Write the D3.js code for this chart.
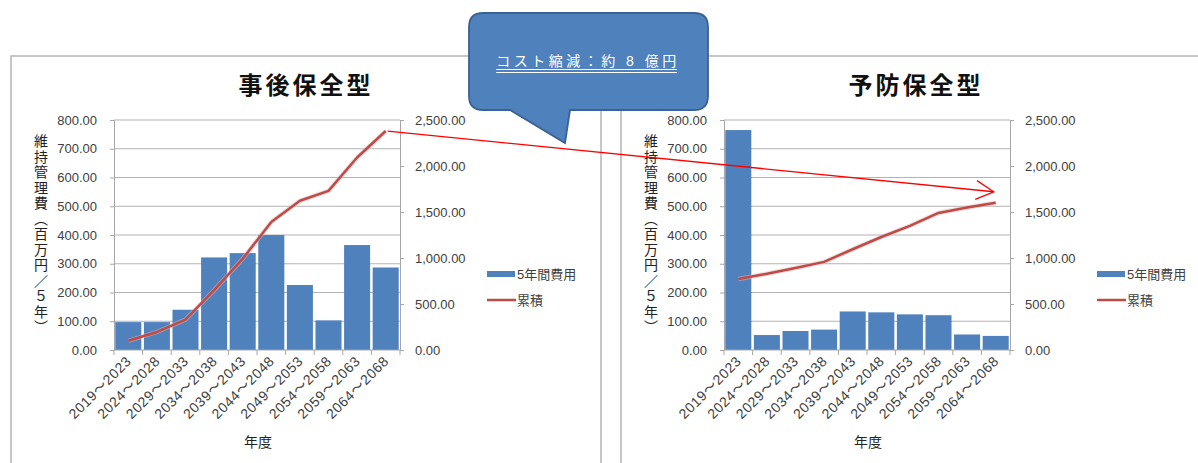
<!DOCTYPE html>
<html>
<head>
<meta charset="utf-8">
<script src="https://cdn.jsdelivr.net/npm/d3@7"></script>
<style>
  body { margin: 0; background: #fff; }
  svg { display: block; }
  text { font-family: "Liberation Sans", "Noto Sans CJK JP", sans-serif; }
</style>
</head>
<body>
<svg id="chart" width="1198" height="463"></svg>
<script>
// Five-year periods on the horizontal axis
const periods = ["2019～2023", "2024～2028", "2029～2033", "2034～2038", "2039～2043",
                 "2044～2048", "2049～2053", "2054～2058", "2059～2063", "2064～2068"];

// Corrective maintenance (事後保全型): cost per five years and running total (百万円)
const correctiveCost = [97, 97, 140, 322, 337, 400, 226, 103, 365, 287];
const correctiveCumulative = [100, 196, 330, 650, 992, 1392, 1622, 1730, 2092, 2380];

// Preventive maintenance (予防保全型): cost per five years and running total (百万円)
const preventiveCost = [765, 52, 66, 71, 134, 131, 124, 121, 54, 49];
const preventiveCumulative = [772, 828, 892, 958, 1095, 1228, 1350, 1490, 1548, 1600];

// Axis ticks
const costTicks = [0, 100, 200, 300, 400, 500, 600, 700, 800];
const cumulativeTicks = [0, 500, 1000, 1500, 2000, 2500];

// Texts
const panelTitles = ["事後保全型", "予防保全型"];
const seriesNames = ["5年間費用", "累積"];
const yAxisTitle = "維持管理費（百万円／５年）";
const xAxisTitle = "年度";
const calloutText = "コスト縮減：約 8 億円";
// Level on the preventive chart's cumulative axis that the comparison arrow points to
const arrowTargetValue = 1720;

const BAR = "#4f81bd", LINE = "#be4b48", GRID = "#b3b3b3", AXIS = "#a6a6a6", LABEL = "#404040";

const svg = d3.select("#chart");

// Panel frames
const panelOffset = 610;
[0, 1].forEach(i => {
  svg.append("rect")
    .attr("x", 11 + i * panelOffset).attr("y", 56)
    .attr("width", 590 + i * 20).attr("height", 440)
    .attr("fill", "none").attr("stroke", "#b9b9b9").attr("stroke-width", 1.6);
});

function drawPanel(i, cost, cumulative) {
  const ox = i * panelOffset;
  const left = 114 + ox, right = 400 + ox, top = 120, bottom = 350;
  const g = svg.append("g");

  const x = d3.scaleBand().domain(periods).range([left, right])
    .paddingInner(0.09).paddingOuter(0.045);
  const yCost = d3.scaleLinear().domain([0, 800]).range([bottom, top]);
  const yCum = d3.scaleLinear().domain([0, 2500]).range([bottom, top]);

  // Title
  g.append("text")
    .attr("x", 306 + ox).attr("y", 94)
    .attr("text-anchor", "middle")
    .attr("font-size", 24).attr("font-weight", "bold")
    .attr("letter-spacing", 3)
    .attr("fill", "#111")
    .text(panelTitles[i]);

  // Horizontal gridlines
  g.append("g").selectAll("line").data(costTicks.filter(d => d > 0)).join("line")
    .attr("x1", left).attr("x2", right)
    .attr("y1", d => yCost(d)).attr("y2", d => yCost(d))
    .attr("stroke", GRID).attr("stroke-width", 1);

  // Left axis
  const axL = g.append("g").attr("transform", `translate(${left},0)`)
    .call(d3.axisLeft(yCost).tickValues(costTicks).tickFormat(d3.format(".2f"))
      .tickSize(4).tickPadding(13));
  axL.select(".domain").attr("stroke", AXIS);
  axL.selectAll(".tick line").attr("stroke", AXIS);
  axL.selectAll("text").attr("font-size", 13).attr("fill", LABEL)
    .attr("font-family", "'Liberation Sans', sans-serif");

  // Right axis
  const axR = g.append("g").attr("transform", `translate(${right},0)`)
    .call(d3.axisRight(yCum).tickValues(cumulativeTicks).tickFormat(d3.format(",.2f"))
      .tickSize(4).tickPadding(11));
  axR.select(".domain").attr("stroke", AXIS);
  axR.selectAll(".tick line").attr("stroke", AXIS);
  axR.selectAll("text").attr("font-size", 13).attr("fill", LABEL)
    .attr("font-family", "'Liberation Sans', sans-serif");

  // Bars
  g.append("g").selectAll("rect").data(cost).join("rect")
    .attr("x", (d, k) => x(periods[k]))
    .attr("width", x.bandwidth())
    .attr("y", d => yCost(d))
    .attr("height", d => yCost(0) - yCost(d))
    .attr("fill", BAR);

  // Bottom axis line and ticks at band boundaries
  g.append("line").attr("x1", left).attr("x2", right)
    .attr("y1", bottom).attr("y2", bottom).attr("stroke", AXIS);
  g.append("g").selectAll("line").data(d3.range(periods.length + 1)).join("line")
    .attr("x1", k => left + k * x.step()).attr("x2", k => left + k * x.step())
    .attr("y1", bottom).attr("y2", bottom + 5)
    .attr("stroke", AXIS);

  // Category labels
  g.append("g").selectAll("text").data(periods).join("text")
    .attr("transform", p => `translate(${x(p) + x.bandwidth() / 2 + 4},${bottom + 12}) rotate(-45)`)
    .attr("text-anchor", "end")
    .attr("font-size", 14).attr("letter-spacing", 0.6).attr("fill", LABEL)
    .text(p => p);

  // Cumulative line
  const line = d3.line()
    .x((d, k) => x(periods[k]) + x.bandwidth() / 2)
    .y(d => yCum(d));
  g.append("path").datum(cumulative)
    .attr("d", line).attr("fill", "none")
    .attr("stroke", "#e8b5b3").attr("stroke-width", 4.5).attr("stroke-opacity", 0.5);
  g.append("path").datum(cumulative)
    .attr("d", line).attr("fill", "none")
    .attr("stroke", LINE).attr("stroke-width", 2.5).attr("stroke-linejoin", "round");

  // Vertical axis title
  g.append("text")
    .attr("x", 40 + ox).attr("y", 134)
    .attr("writing-mode", "vertical-rl")
    .attr("font-family", "'Noto Sans CJK JP', sans-serif")
    .attr("font-size", 14).attr("letter-spacing", 1.5)
    .attr("fill", "#222")
    .text(yAxisTitle);

  // Horizontal axis title
  g.append("text")
    .attr("x", 258 + ox).attr("y", 447)
    .attr("text-anchor", "middle")
    .attr("font-family", "'Noto Sans CJK JP', sans-serif")
    .attr("font-size", 14).attr("fill", "#222")
    .text(xAxisTitle);

  // Legend
  const lg = g.append("g").attr("transform", `translate(${487 + ox},0)`);
  lg.append("rect").attr("x", 0).attr("y", 271).attr("width", 28).attr("height", 6).attr("fill", BAR);
  lg.append("text").attr("x", 30).attr("y", 274).attr("dy", "0.35em")
    .attr("font-family", "'Noto Sans CJK JP', sans-serif")
    .attr("font-size", 13).attr("fill", LABEL).text(seriesNames[0]);
  lg.append("line").attr("x1", 0).attr("x2", 29).attr("y1", 300).attr("y2", 300)
    .attr("stroke", LINE).attr("stroke-width", 2.5);
  lg.append("text").attr("x", 30).attr("y", 300).attr("dy", "0.35em")
    .attr("font-family", "'Noto Sans CJK JP', sans-serif")
    .attr("font-size", 13).attr("fill", LABEL).text(seriesNames[1]);

  return { x, yCum };
}

const pA = drawPanel(0, correctiveCost, correctiveCumulative);
const pB = drawPanel(1, preventiveCost, preventiveCumulative);

// Comparison arrow from the corrective total to the preventive total
const last = periods[periods.length - 1];
const ax1 = pA.x(last) + pA.x.bandwidth() / 2 + 2;
const ay1 = pA.yCum(correctiveCumulative[correctiveCumulative.length - 1]);
const ax2 = pB.x(last) + pB.x.bandwidth() / 2 - 2;
const ay2 = pB.yCum(arrowTargetValue);
const arrow = svg.append("g").attr("stroke", "#ff0000").attr("stroke-width", 1.3).attr("fill", "none");
arrow.append("line").attr("x1", ax1).attr("y1", ay1).attr("x2", ax2).attr("y2", ay2);
const ang = Math.atan2(ay2 - ay1, ax2 - ax1);
const headLen = 20, headAng = 28 * Math.PI / 180;
arrow.append("path").attr("d",
  `M${ax2 - headLen * Math.cos(ang - headAng)},${ay2 - headLen * Math.sin(ang - headAng)}` +
  `L${ax2},${ay2}` +
  `L${ax2 - headLen * Math.cos(ang + headAng)},${ay2 - headLen * Math.sin(ang + headAng)}`);

// Speech-bubble callout
const cx0 = 469, cy0 = 13, cx1 = 708, cy1 = 110, r = 14;
const bubble = d3.path();
bubble.moveTo(cx0 + r, cy0);
bubble.lineTo(cx1 - r, cy0);
bubble.quadraticCurveTo(cx1, cy0, cx1, cy0 + r);
bubble.lineTo(cx1, cy1 - r);
bubble.quadraticCurveTo(cx1, cy1, cx1 - r, cy1);
bubble.lineTo(570, cy1);
bubble.lineTo(565, 143);
bubble.lineTo(510, cy1);
bubble.lineTo(cx0 + r, cy1);
bubble.quadraticCurveTo(cx0, cy1, cx0, cy1 - r);
bubble.lineTo(cx0, cy0 + r);
bubble.quadraticCurveTo(cx0, cy0, cx0 + r, cy0);
bubble.closePath();
svg.append("path").attr("d", bubble.toString())
  .attr("fill", "#4f81bd").attr("stroke", "#3a6292").attr("stroke-width", 1.8);

const ct = svg.append("text")
  .attr("x", 588).attr("y", 66)
  .attr("text-anchor", "middle")
  .attr("font-family", "'Noto Sans CJK JP', sans-serif")
  .attr("font-size", 14).attr("letter-spacing", 3.5)
  .attr("fill", "#fff")
  .text(calloutText);
const bb = ct.node().getBBox();
[69.5, 72.5].forEach(yy => {
  svg.append("line").attr("x1", bb.x).attr("x2", bb.x + bb.width - 3)
    .attr("y1", yy).attr("y2", yy).attr("stroke", "#fff").attr("stroke-width", 1);
});
</script>
</body>
</html>
